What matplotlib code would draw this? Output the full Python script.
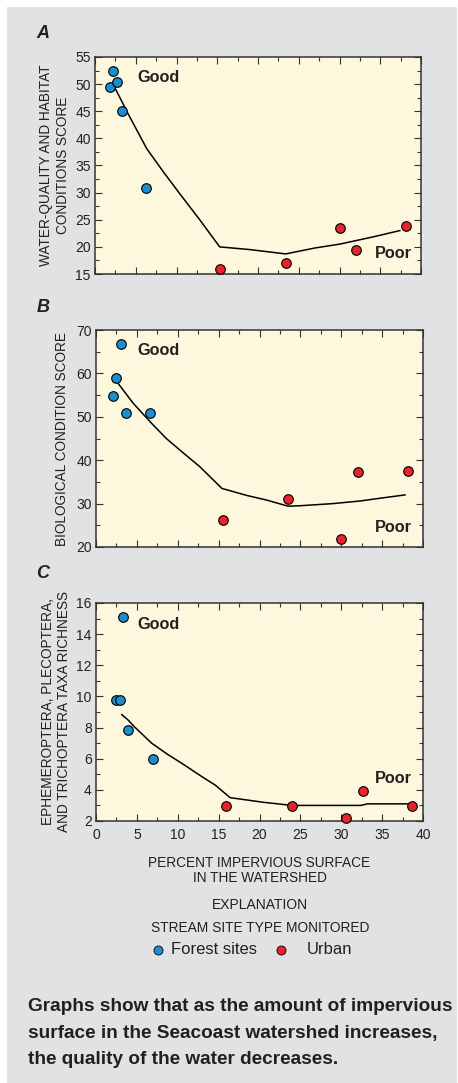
import matplotlib
matplotlib.use("Agg")
import matplotlib.pyplot as plt
from matplotlib.ticker import MultipleLocator
from matplotlib.lines import Line2D

# ---------------- data ----------------
forest_x_A = [1.8, 2.25, 2.65, 3.3, 6.2]
forest_y_A = [49.4, 52.4, 50.3, 45.0, 30.9]
urban_x_A = [15.3, 23.4, 30.0, 32.0, 38.1]
urban_y_A = [15.9, 17.0, 23.5, 19.4, 23.8]
line_x_A = [2.25, 4.0, 6.35, 8.4, 10.5, 12.9, 15.3, 19.0, 23.4, 27.0, 30.0, 34.0, 37.4]
line_y_A = [49.9, 44.7, 38.1, 33.8, 29.6, 24.9, 20.0, 19.5, 18.7, 19.8, 20.5, 21.8, 23.0]

forest_x_B = [2.1, 2.5, 3.0, 3.7, 6.55]
forest_y_B = [54.7, 58.9, 66.7, 50.9, 50.9]
urban_x_B = [15.55, 23.5, 30.0, 32.1, 38.2]
urban_y_B = [26.2, 31.1, 21.8, 37.2, 37.5]
line_x_B = [2.5, 4.56, 6.8, 8.6, 10.6, 12.7, 15.4, 18.4, 20.9, 23.5, 24.9, 29.0, 32.3, 35.0, 37.8]
line_y_B = [58.2, 53.1, 48.5, 45.0, 41.8, 38.5, 33.5, 31.9, 30.8, 29.4, 29.5, 30.0, 30.6, 31.3, 32.0]

forest_x_C = [2.4, 2.95, 3.35, 3.95, 6.95]
forest_y_C = [9.8, 9.8, 15.1, 7.85, 5.95]
urban_x_C = [15.9, 24.0, 30.6, 32.6, 38.7]
urban_y_C = [2.95, 2.95, 2.2, 3.9, 2.95]
line_x_C = [3.15, 3.9, 4.6, 6.8, 8.7, 10.8, 12.8, 14.6, 16.4, 20.5, 24.0, 32.4, 33.2, 38.7]
line_y_C = [8.83, 8.5, 8.1, 7.0, 6.3, 5.6, 4.9, 4.3, 3.5, 3.2, 3.0, 3.0, 3.1, 3.1]

panel_letters = ["A", "B", "C"]
ylabels = ["WATER-QUALITY AND HABITAT\nCONDITIONS SCORE",
           "BIOLOGICAL CONDITION SCORE",
           "EPHEMEROPTERA, PLECOPTERA,\nAND TRICHOPTERA TAXA RICHNESS"]
ylims = [(15, 55), (20, 70), (2, 16)]
ymajor = [5, 10, 2]
yminor = [2.5, 5, 1]
good_pos = [(5.15, 51.3), (5.0, 65.2), (5.0, 14.6)]
poor_pos = [(38.9, 18.7), (38.65, 24.6), (38.65, 4.76)]

xlabel = "PERCENT IMPERVIOUS SURFACE\nIN THE WATERSHED"
legend_title1 = "EXPLANATION"
legend_title2 = "STREAM SITE TYPE MONITORED"
legend_labels = ["Forest sites", "Urban"]
caption_lines = ["Graphs show that as the amount of impervious",
                 "surface in the Seacoast watershed increases,",
                 "the quality of the water decreases."]

# ---------------- style ----------------
plt.rcParams['font.family'] = ['Liberation Sans', 'DejaVu Sans']
W, H = 458, 1083
DPI = 100
BG = "#e1e2e4"
AXBG = "#fdf7dd"
BLUE = "#1b8ed0"
RED = "#e8232a"
TXT = "#231f20"

fig = plt.figure(figsize=(W / DPI, H / DPI), dpi=DPI, facecolor="white")
fig.patches.append(plt.Rectangle((7 / W, 0), (457 - 7) / W, 1 - 7 / H,
                                 transform=fig.transFigure, facecolor=BG,
                                 edgecolor="none", zorder=-10))

def ax_rect(x0, y0, x1, y1):
    return [x0 / W, 1 - y1 / H, (x1 - x0) / W, (y1 - y0) / H]

rects = [ax_rect(95, 57, 421, 274), ax_rect(96, 330, 423, 547), ax_rect(96, 603, 423, 821)]
letter_y = [33, 307, 573]
ylabel_pad = [4, 5, 4]

data = [
    (forest_x_A, forest_y_A, urban_x_A, urban_y_A, line_x_A, line_y_A),
    (forest_x_B, forest_y_B, urban_x_B, urban_y_B, line_x_B, line_y_B),
    (forest_x_C, forest_y_C, urban_x_C, urban_y_C, line_x_C, line_y_C),
]

for i in range(3):
    ax = fig.add_axes(rects[i])
    ax.set_facecolor(AXBG)
    fx, fy, ux, uy, lx, ly = data[i]
    ax.plot(lx, ly, color="black", lw=1.1, zorder=2)
    ax.scatter(fx, fy, s=48, facecolor=BLUE, edgecolor="black", linewidth=0.8, zorder=3, clip_on=False)
    ax.scatter(ux, uy, s=48, facecolor=RED, edgecolor="black", linewidth=0.8, zorder=3, clip_on=False)
    ax.set_xlim(0, 40)
    ax.set_ylim(*ylims[i])
    ax.xaxis.set_major_locator(MultipleLocator(5))
    ax.xaxis.set_minor_locator(MultipleLocator(2.5))
    ax.yaxis.set_major_locator(MultipleLocator(ymajor[i]))
    ax.yaxis.set_minor_locator(MultipleLocator(yminor[i]))
    ax.tick_params(which="both", direction="in", top=True, right=True,
                   colors="#333333", labelcolor=TXT, labelsize=10, width=0.8)
    ax.tick_params(which="major", length=5)
    ax.tick_params(which="minor", length=3)
    for sp in ax.spines.values():
        sp.set_linewidth(1.1)
        sp.set_color("#333333")
    if i < 2:
        ax.tick_params(axis="x", labelbottom=False)
    ax.tick_params(axis="y", pad=3)
    ax.set_ylabel(ylabels[i], fontsize=9.8, color=TXT, labelpad=ylabel_pad[i], linespacing=1.2)
    ax.text(good_pos[i][0], good_pos[i][1], "Good", fontsize=11.7, fontweight="bold", color=TXT,
            va="center", ha="left")
    ax.text(poor_pos[i][0], poor_pos[i][1], "Poor", fontsize=11.7, fontweight="bold", color=TXT,
            va="center", ha="right")
    fig.text(43 / W, 1 - letter_y[i] / H, panel_letters[i], fontsize=13,
             fontweight="bold", fontstyle="italic", color=TXT, ha="center", va="center")
    if i == 2:
        ax.set_xlabel(xlabel, fontsize=9.8, color=TXT, labelpad=10, linespacing=1.15)
        ax.tick_params(axis="x", pad=5)

# legend
fig.text(260 / W, 1 - 905 / H, legend_title1, fontsize=10, color=TXT, ha="center", va="center")
fig.text(260 / W, 1 - 928 / H, legend_title2, fontsize=9.9, color=TXT, ha="center", va="center")
fig.add_artist(Line2D([158 / W], [1 - 950 / H], marker="o", markersize=6.5, markerfacecolor=BLUE,
                      markeredgecolor="black", markeredgewidth=0.6, transform=fig.transFigure))
fig.text(171 / W, 1 - 950 / H, legend_labels[0], fontsize=12, color=TXT, ha="left", va="center")
fig.add_artist(Line2D([281 / W], [1 - 950 / H], marker="o", markersize=6.5, markerfacecolor=RED,
                      markeredgecolor="black", markeredgewidth=0.6, transform=fig.transFigure))
fig.text(307 / W, 1 - 950 / H, legend_labels[1], fontsize=12, color=TXT, ha="left", va="center")

# caption
baselines = [1011, 1038, 1064]
for line, yb in zip(caption_lines, baselines):
    fig.text(28 / W, 1 - yb / H, line, fontsize=13.7, fontweight="bold", color=TXT,
             ha="left", va="baseline")

fig.savefig("out.png", dpi=DPI, facecolor="white")
